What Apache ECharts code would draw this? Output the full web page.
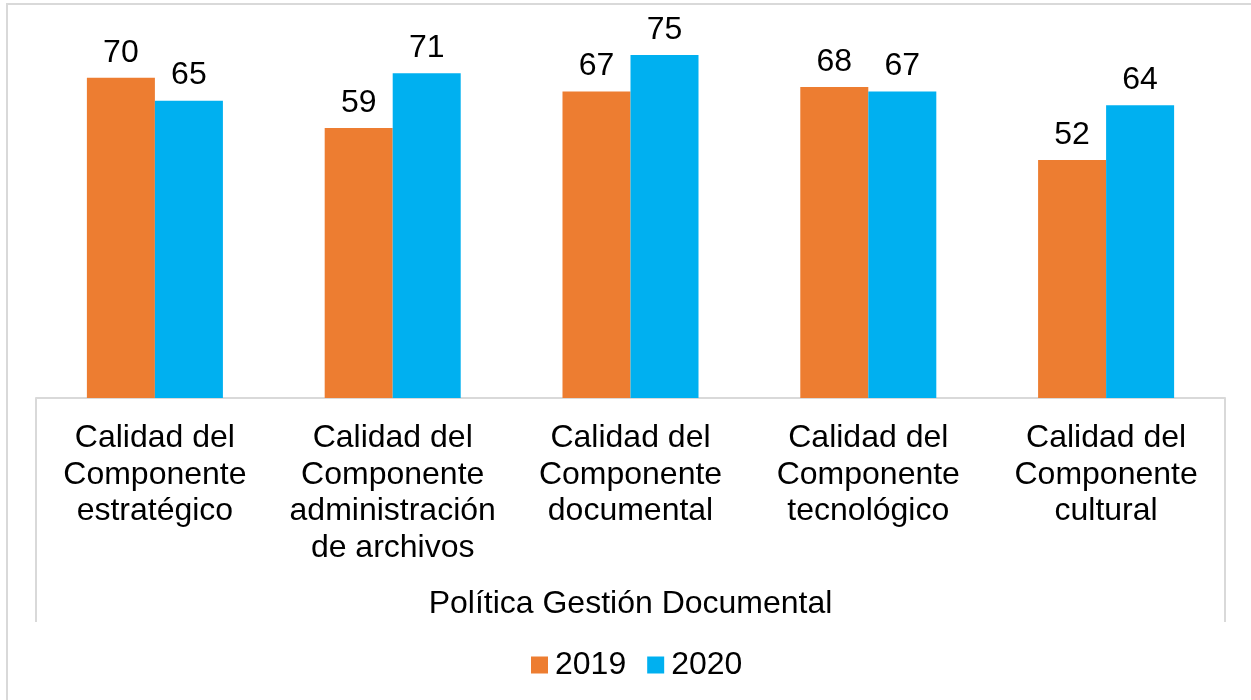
<!DOCTYPE html>
<html>
<head>
<meta charset="utf-8">
<script src="https://cdn.jsdelivr.net/npm/echarts@6/dist/echarts.min.js"></script>
<style>
html,body{margin:0;padding:0;background:#fff;}
#chart{width:1251px;height:700px;}
</style>
</head>
<body>
<div id="chart"></div>
<script>
const categories = [
  "Calidad del\nComponente\nestratégico",
  "Calidad del\nComponente\nadministración\nde archivos",
  "Calidad del\nComponente\ndocumental",
  "Calidad del\nComponente\ntecnológico",
  "Calidad del\nComponente\ncultural"
];
const values2019 = [70, 59, 67, 68, 52];
const values2020 = [65, 71, 75, 67, 64];
const seriesNames = ["2019", "2020"];
const groupTitle = "Política Gestión Documental";

const FONT = "'Liberation Sans', Arial, sans-serif";
const GRID_LEFT = 36, GRID_RIGHT = 26, GRID_TOP = 32, GRID_BOTTOM = 302;
const W = 1251, H = 700;
const axisY = H - GRID_BOTTOM;

const chart = echarts.init(document.getElementById('chart'), null, {renderer: 'canvas'});
const labelStyle = {show: true, position: 'top', distance: 9, color: '#000', fontSize: 32, fontFamily: FONT};
chart.setOption({
  animation: false,
  backgroundColor: '#fff',
  textStyle: {fontFamily: FONT},
  grid: {left: GRID_LEFT, right: GRID_RIGHT, top: GRID_TOP, bottom: GRID_BOTTOM},
  legend: {
    data: seriesNames,
    top: 644,
    left: 526,
    itemWidth: 17,
    itemHeight: 17,
    itemGap: 21,
    icon: 'rect',
    textStyle: {fontSize: 32, color: '#000', fontFamily: FONT, padding: [0, 0, 0, 2]}
  },
  xAxis: {
    type: 'category',
    data: categories,
    axisLine: {show: true, lineStyle: {color: '#d9d9d9', width: 2}},
    axisTick: {show: false},
    axisLabel: {fontSize: 32, lineHeight: 36.5, color: '#000', margin: 22, interval: 0, fontFamily: FONT, align: 'center'},
    name: groupTitle,
    nameLocation: 'middle',
    nameGap: 190,
    nameTextStyle: {fontSize: 32, color: '#000', fontFamily: FONT}
  },
  yAxis: {type: 'value', min: 0, max: 80, show: false, splitLine: {show: false}},
  series: [
    {name: seriesNames[0], type: 'bar', data: values2019, itemStyle: {color: '#ED7D31'}, barGap: '0%', barCategoryGap: '42.8%', label: labelStyle},
    {name: seriesNames[1], type: 'bar', data: values2020, itemStyle: {color: '#00B0F0'}, barGap: '0%', barCategoryGap: '42.8%', label: labelStyle}
  ],
  graphic: [
    {type: 'rect', shape: {x: 7, y: 4, width: 1300, height: 800}, style: {fill: 'none', stroke: '#d9d9d9', lineWidth: 2}, silent: true},
    {type: 'line', shape: {x1: GRID_LEFT, y1: axisY, x2: GRID_LEFT, y2: 622}, style: {stroke: '#d9d9d9', lineWidth: 2}, silent: true},
    {type: 'line', shape: {x1: W - GRID_RIGHT, y1: axisY, x2: W - GRID_RIGHT, y2: 622}, style: {stroke: '#d9d9d9', lineWidth: 2}, silent: true}
  ]
});
</script>
</body>
</html>
